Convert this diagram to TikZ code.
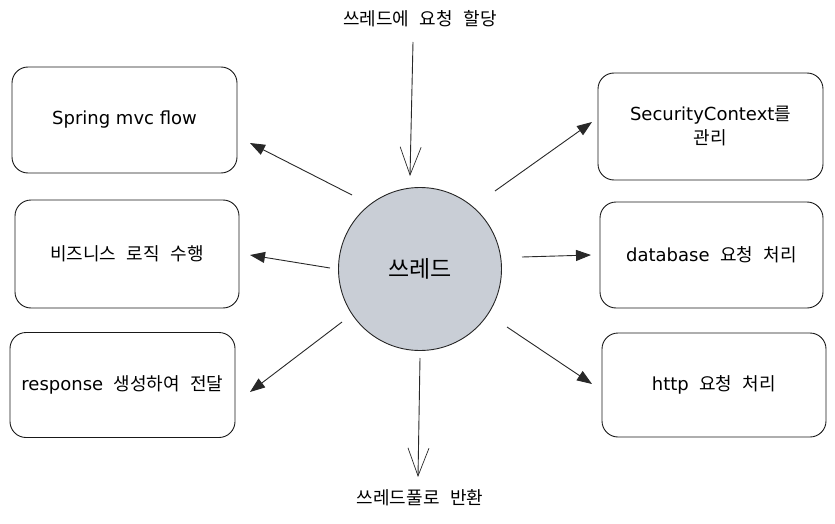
\documentclass[tikz,border=0pt]{standalone}
\usepackage{fontspec}
\setmainfont{Noto Sans CJK KR}[WordSpace=2.6]
\newfontfamily\latfont{DejaVu Sans}
\newcommand{\lat}[1]{{\latfont\fontsize{18}{22}\selectfont #1}}
\usetikzlibrary{arrows.meta}
\definecolor{threadfill}{RGB}{201,206,214}
\definecolor{linegray}{RGB}{40,40,40}
\tikzset{
  box/.style={draw=black!90, line width=0.9pt, rounded corners=16pt, align=center,
    font=\fontsize{18}{24}\selectfont, inner sep=0pt},
  lbl/.style={font=\fontsize{18}{20}\selectfont, inner sep=0pt},
  conn/.style={draw=linegray, line width=0.9pt},
  sidetip/.style={-{Triangle[length=15pt,width=11pt]}},
  vtip/.style={-{Straight Barb[length=28pt,width=21pt,line width=0.7pt]}}
}
\begin{document}
\begin{tikzpicture}[x=1pt,y=-1pt]
\useasboundingbox (0,0) rectangle (835,524);
% boxes
\node[box, minimum width=225pt, minimum height=106pt] (b1) at (124.5,120) {\lat{Spring mvc flow}};
\node[box, minimum width=224pt, minimum height=108pt] (b2) at (127,254) {비즈니스 로직 수행};
\node[box, minimum width=225pt, minimum height=105pt] (b3) at (122.5,385) {\lat{response} 생성하여 전달};
\node[box, minimum width=225pt, minimum height=107pt] (b4) at (710.5,126.5) {\lat{SecurityContext}를\\관리};
\node[box, minimum width=223pt, minimum height=106pt] (b5) at (711.5,255) {\lat{database} 요청 처리};
\node[box, minimum width=224pt, minimum height=104pt] (b6) at (714,385) {\lat{http} 요청 처리};
% thread
\node[circle, draw=black!85, line width=0.9pt, fill=threadfill, minimum size=163pt, inner sep=0pt,
  font=\fontsize{23}{26}\selectfont] (th) at (420,269) {쓰레드};
% labels
\node[lbl] (top) at (420,19) {쓰레드에 요청 할당};
\node[lbl] (bot) at (420,498) {쓰레드풀로 반환};
% connector coordinates
\coordinate (tS) at (413,42);  \coordinate (tE) at (410,176);
\coordinate (dS) at (420,358); \coordinate (dE) at (418,477);
\coordinate (l1S) at (352,195); \coordinate (l1E) at (250,143);
\coordinate (l2S) at (330,268); \coordinate (l2E) at (250,255);
\coordinate (l3S) at (342,322); \coordinate (l3E) at (250,392);
\coordinate (r1S) at (495,191); \coordinate (r1E) at (592,122);
\coordinate (r2S) at (522,257); \coordinate (r2E) at (591,255);
\coordinate (r3S) at (507,327); \coordinate (r3E) at (592,384);
% connectors
\draw[conn, vtip] (tS) -- (tE);
\draw[conn, vtip] (dS) -- (dE);
\draw[conn, sidetip] (l1S) -- (l1E);
\draw[conn, sidetip] (l2S) -- (l2E);
\draw[conn, sidetip] (l3S) -- (l3E);
\draw[conn, sidetip] (r1S) -- (r1E);
\draw[conn, sidetip] (r2S) -- (r2E);
\draw[conn, sidetip] (r3S) -- (r3E);
\end{tikzpicture}
\end{document}
